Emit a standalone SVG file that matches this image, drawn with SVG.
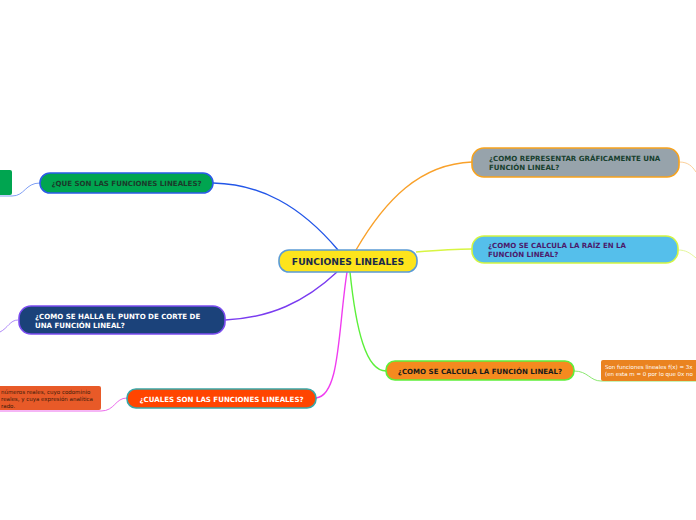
<svg xmlns="http://www.w3.org/2000/svg" width="696" height="520" viewBox="0 0 696 520">
<style>
text{font-family:"DejaVu Sans",Verdana,sans-serif;font-weight:bold}
.t8{font-size:7.05px}
.t6{font-size:5.5px;font-weight:normal}
.c{fill:none;stroke-width:1.4}
.s{fill:none;stroke-width:1}
.n{stroke-width:1.6}
</style>
<rect width="696" height="520" fill="#ffffff"/>
<g id="connectors">
<path class="c" stroke="#2256e8" d="M338 250 C300 205 260 184 213 183"/>
<path class="c" stroke="#f9a12a" d="M356 250 C385 200 420 164 472 162"/>
<path class="c" stroke="#d8f542" d="M416 252 C440 250 455 249 472 249"/>
<path class="c" stroke="#7a3cf0" d="M337 272 C305 302 270 318 225 320"/>
<path class="c" stroke="#f03cf0" d="M347 272 C338 330 340 396 316 398"/>
<path class="c" stroke="#5cf03a" d="M350 272 C356 330 366 371 386 371"/>
<path class="s" stroke="#7f9ff5" d="M0 196 L12 196 C25 196 25 183 40 183"/>
<path class="s" stroke="#b08af8" d="M0 332 C8 328 10 320 18 320"/>
<path class="s" stroke="#ec6cec" d="M0 411 L101 411 C115 411 115 398 127 398"/>
<path class="s" stroke="#fcd09a" d="M679 162 C688 162 692 166 696 172"/>
<path class="s" stroke="#e4f79a" d="M678 250 C686 250 690 253 696 258"/>
<path class="s" stroke="#8ae870" d="M574 371 C588 371 590 381 601 381 L696 381"/>
</g>
<g id="n-left-green">
<rect x="-10" y="170" width="22" height="25" rx="2" fill="#00a550"/>
</g>
<g id="n-left-orange">
<rect x="-10" y="386" width="111" height="24" rx="2" fill="#e85a28"/>
<text class="t6" fill="#3a1a0a" x="1" y="394">números reales, cuyo codominio</text>
<text class="t6" fill="#3a1a0a" x="1" y="401">reales, y cuya expresión analítica</text>
<text class="t6" fill="#3a1a0a" x="1" y="408">rado.</text>
</g>
<g id="n-right-orange">
<rect x="601" y="360" width="105" height="21" rx="2" fill="#ea8320"/>
<text class="t6" fill="#ffffff" x="605" y="369">Son funciones lineales f(x) = 3x</text>
<text class="t6" fill="#ffffff" x="605" y="376">(en esta m = 0 por lo que 0x no</text>
</g>
<g id="n-center">
<rect class="n" x="279" y="250" width="138" height="22" rx="10" fill="#fde41c" stroke="#5b9bd5"/>
<text x="348" y="265" font-size="9.2" fill="#1a2a4a" text-anchor="middle">FUNCIONES LINEALES</text>
</g>
<g id="n1">
<rect class="n" x="40" y="173" width="173" height="20" rx="10" fill="#00a550" stroke="#2a5ce6"/>
<text class="t8" x="126.5" y="186" fill="#1b3b2b" text-anchor="middle">¿QUE SON LAS FUNCIONES LINEALES?</text>
</g>
<g id="n2">
<rect class="n" x="19" y="306" width="206" height="28" rx="12" fill="#1b427a" stroke="#7b4cf0"/>
<text class="t8" x="35" y="319" fill="#ffffff">¿COMO SE HALLA EL PUNTO DE CORTE DE</text>
<text class="t8" x="35" y="328" fill="#ffffff">UNA FUNCIÓN LINEAL?</text>
</g>
<g id="n3">
<rect class="n" x="127" y="389" width="189" height="19" rx="9" fill="#ff4500" stroke="#3aa6a6"/>
<text class="t8" x="221.5" y="401.5" fill="#ffffff" text-anchor="middle">¿CUALES SON LAS FUNCIONES LINEALES?</text>
</g>
<g id="n4">
<rect class="n" x="472" y="148" width="207" height="29" rx="12" fill="#97a3ab" stroke="#f7a21c"/>
<text class="t8" x="489" y="161" fill="#17402e">¿COMO REPRESENTAR GRÁFICAMENTE UNA</text>
<text class="t8" x="489" y="170" fill="#17402e">FUNCIÓN LINEAL?</text>
</g>
<g id="n5">
<rect class="n" x="472" y="236" width="206" height="27" rx="12" fill="#55bfeb" stroke="#d4f542"/>
<text class="t8" x="488" y="248" fill="#4b1a6b">¿COMO SE CALCULA LA RAÍZ EN LA</text>
<text class="t8" x="488" y="257" fill="#4b1a6b">FUNCIÓN LINEAL?</text>
</g>
<g id="n6">
<rect class="n" x="386" y="361" width="188" height="19" rx="9" fill="#f58a1f" stroke="#5ef03a"/>
<text class="t8" x="480" y="373.5" fill="#1a1a1a" text-anchor="middle">¿COMO SE CALCULA LA FUNCIÓN LINEAL?</text>
</g>
</svg>
